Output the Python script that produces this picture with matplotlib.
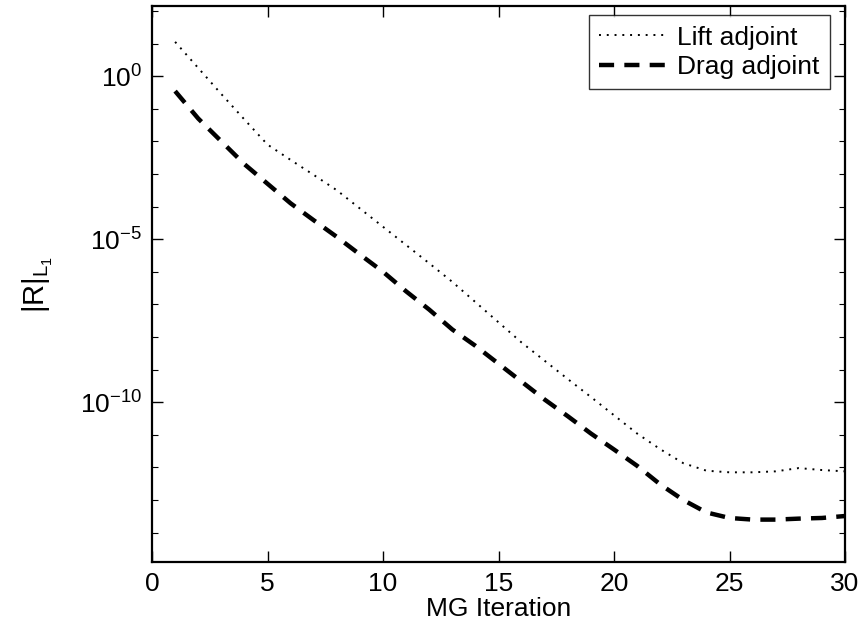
import numpy as np
import matplotlib
matplotlib.use("Agg")
import matplotlib.pyplot as plt
from matplotlib.ticker import FixedLocator, FuncFormatter, NullFormatter

plt.rcParams['font.family'] = ['Liberation Sans', 'DejaVu Sans']
plt.rcParams['mathtext.fontset'] = 'custom'
plt.rcParams['mathtext.rm'] = 'Liberation Sans'
plt.rcParams['mathtext.it'] = 'Liberation Sans:italic'
plt.rcParams['mathtext.bf'] = 'Liberation Sans:bold'

iterations = list(range(1, 31))
lift_log10 = [1.05, 0.25, -0.55, -1.33, -2.10, -2.57, -3.03, -3.50, -4.06, -4.62,
              -5.18, -5.74, -6.31, -6.93, -7.55, -8.17, -8.73, -9.29, -9.84, -10.40,
              -10.96, -11.44, -11.87, -12.10, -12.15, -12.15, -12.12, -12.02, -12.08, -12.12]
drag_log10 = [-0.46, -1.30, -2.00, -2.70, -3.30, -3.90, -4.42, -4.93, -5.47, -6.00,
              -6.60, -7.16, -7.77, -8.27, -8.82, -9.37, -9.92, -10.43, -10.96, -11.45,
              -11.95, -12.52, -13.00, -13.38, -13.55, -13.60, -13.60, -13.57, -13.55, -13.49]
series_labels = ["Lift adjoint", "Drag adjoint"]
x_ticks = [0, 5, 10, 15, 20, 25, 30]
y_tick_exps = [0, -5, -10]

lift = 10.0 ** np.array(lift_log10)
drag = 10.0 ** np.array(drag_log10)

fig = plt.figure(figsize=(8.63, 6.29), dpi=100)
ax = fig.add_axes([152/863, 1 - 562/629, 693/863, 556/629])

ax.plot(iterations, lift, color='black', lw=1.4, linestyle=(0, (1.0, 3.0)),
        label=series_labels[0])
ax.plot(iterations, drag, color='black', lw=3.2, linestyle=(0, (3.4, 2.3)),
        label=series_labels[1])

ax.set_yscale('log')
ax.set_xlim(0, 30)
ax.set_ylim(10 ** -14.9, 10 ** 2.15)
ax.xaxis.set_major_locator(FixedLocator(x_ticks))
ax.yaxis.set_major_locator(FixedLocator([10.0 ** e for e in y_tick_exps]))
ax.yaxis.set_minor_locator(FixedLocator([10.0 ** e for e in range(-14, 3)]))
ax.yaxis.set_minor_formatter(NullFormatter())
ax.yaxis.set_major_formatter(FuncFormatter(lambda v, p: r'$10^{%d}$' % round(np.log10(v))))

ax.tick_params(axis='both', which='major', direction='in', length=8, width=1,
               top=True, right=True, labelsize=19, pad=7)
ax.tick_params(axis='y', which='minor', direction='in', length=4, width=0.8,
               left=True, right=True)
for s in ax.spines.values():
    s.set_linewidth(1.6)

ax.set_xlabel('MG Iteration', fontsize=19, labelpad=1)
ax.set_ylabel(r'$|\mathrm{R}|_{\mathrm{L}_1}$', fontsize=21, labelpad=18)

leg = ax.legend(loc='upper right', bbox_to_anchor=((830 - 152) / 693, (562 - 15) / 556),
                borderaxespad=0, fontsize=19, frameon=True, fancybox=False,
                edgecolor='black', handlelength=2.5, borderpad=0.4,
                labelspacing=0.2, handletextpad=0.45)
leg.get_frame().set_linewidth(1.0)

fig.savefig('out.png', dpi=100)
